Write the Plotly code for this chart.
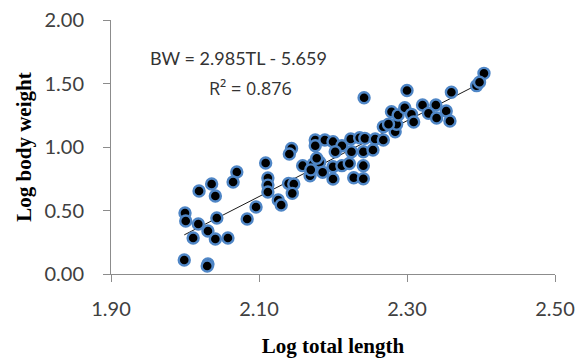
import plotly.graph_objects as go

# Log total length (TL) and log body weight (BW)
log_tl = [
    2.000, 2.001, 2.018, 2.011, 2.031, 2.041, 2.058, 2.043, 2.019, 2.036,
    2.041, 2.070, 2.065, 2.084, 2.096, 2.109, 2.112, 2.112, 2.112, 2.126,
    2.130, 1.999, 2.031, 2.030, 2.144, 2.141, 2.140, 2.147, 2.145, 2.159,
    2.173, 2.182, 2.178, 2.169, 2.186, 2.200, 2.200, 2.212, 2.228, 2.241,
    2.176, 2.189, 2.176, 2.200, 2.212, 2.224, 2.236, 2.243, 2.257, 2.203,
    2.225, 2.241, 2.254, 2.242, 2.170, 2.268, 2.284, 2.286, 2.279, 2.288,
    2.297, 2.300, 2.306, 2.309, 2.321, 2.339, 2.329, 2.353, 2.340, 2.358,
    2.360, 2.394, 2.404, 2.398, 2.268, 2.275, 2.222, 2.241,
]
log_bw = [
    0.480, 0.417, 0.394, 0.283, 0.339, 0.276, 0.283, 0.441, 0.654, 0.709,
    0.614, 0.803, 0.724, 0.433, 0.528, 0.874, 0.756, 0.700, 0.646, 0.583,
    0.543, 0.110, 0.079, 0.063, 0.988, 0.945, 0.713, 0.709, 0.635, 0.853,
    0.864, 0.880, 0.911, 0.774, 0.801, 0.748, 0.845, 0.853, 0.758, 0.853,
    1.055, 1.055, 1.010, 1.042, 1.010, 1.063, 1.073, 1.068, 1.063, 0.963,
    0.963, 0.963, 0.976, 1.388, 0.820, 1.160, 1.120, 1.179, 1.278, 1.252,
    1.309, 1.445, 1.257, 1.197, 1.331, 1.331, 1.265, 1.283, 1.228, 1.205,
    1.431, 1.483, 1.580, 1.510, 1.055, 1.180, 0.870, 0.750,
]

# Regression: BW = 2.985 TL - 5.659
slope = 2.985
intercept = -5.659
eq_text = "BW = 2.985TL - 5.659"
r2_text = "R² = 0.876"

x_ticks = [1.90, 2.10, 2.30, 2.50]
y_ticks = [0.00, 0.50, 1.00, 1.50, 2.00]

line_x = [min(log_tl), max(log_tl)]
line_y = [slope * v + intercept for v in line_x]

fig = go.Figure()
fig.add_trace(go.Scatter(
    x=line_x, y=line_y, mode="lines",
    line=dict(color="#1a1a1a", width=1),
    hoverinfo="skip", showlegend=False,
))
fig.add_trace(go.Scatter(
    x=log_tl, y=log_bw, mode="markers",
    marker=dict(size=11, color="black", line=dict(color="#4F86C6", width=2.4)),
    showlegend=False, cliponaxis=False,
))

fig.add_annotation(x=2.072, y=1.70, xref="x", yref="y", text=eq_text,
                   showarrow=False, font=dict(family="Lato", size=18, color="#333333"))
fig.add_annotation(x=2.088, y=1.465, xref="x", yref="y", text=r2_text,
                   showarrow=False, font=dict(family="Open Sans", size=18, color="#333333"))

axis_common = dict(
    showgrid=False, zeroline=False, showline=True,
    linecolor="#8c8c8c", linewidth=1,
    ticks="outside", ticklen=7, tickcolor="#8c8c8c", tickwidth=1,
    tickfont=dict(family="Lato", size=20, color="#404040"),
    tickformat=".2f", automargin=False,
)

fig.update_xaxes(
    range=[1.90, 2.50], tickvals=x_ticks, ticklabelstandoff=10,
    title=dict(text="Log total length", standoff=20,
               font=dict(family="Liberation Serif", size=21, color="black", weight="bold")),
    **axis_common,
)
fig.update_yaxes(
    range=[0.0, 2.0], tickvals=y_ticks, ticklabelstandoff=15,
    title=dict(text="Log body weight", standoff=7,
               font=dict(family="Liberation Serif", size=21, color="black", weight="bold")),
    **axis_common,
)

fig.update_layout(
    width=577, height=358,
    margin=dict(l=111, r=22, t=20, b=84),
    plot_bgcolor="white", paper_bgcolor="white",
)

fig.write_html("out.html", config={"displayModeBar": False},
               post_script="document.body.style.margin='0';document.body.style.overflow='hidden';")
